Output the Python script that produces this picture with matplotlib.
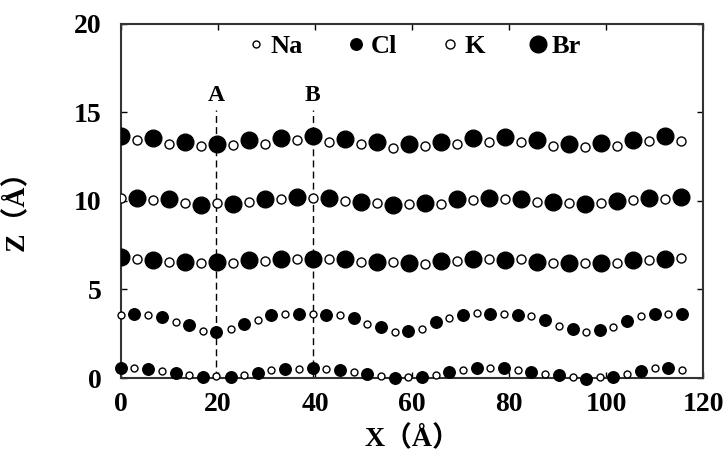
import matplotlib.pyplot as plt

# lattice positions along X (Å)
x_nacl_a = [0, 5.6, 11.3, 16.9, 22.6, 28.2, 33.8, 39.5, 45.1, 50.8, 56.4,
            62.0, 67.7, 73.3, 79.0, 84.6, 90.2, 95.9, 101.5, 107.2, 112.8]
x_nacl_b = [2.8, 8.5, 14.1, 19.7, 25.4, 31.0, 36.7, 42.3, 48.0, 53.6, 59.2,
            64.9, 70.5, 76.1, 81.8, 87.4, 93.1, 98.7, 104.3, 110.0, 115.6]
x_kbr_a = [0, 6.6, 13.2, 19.8, 26.4, 33.0, 39.6, 46.2, 52.8, 59.4,
           66.0, 72.6, 79.2, 85.8, 92.4, 99.0, 105.6, 112.2]
x_kbr_b = [3.3, 9.9, 16.5, 23.1, 29.7, 36.3, 42.9, 49.5, 56.1, 62.7,
           69.3, 75.9, 82.5, 89.1, 95.7, 102.3, 108.9, 115.5]

# layer 1 (NaCl): Cl on x_nacl_a, Na on x_nacl_b
z1_cl = [0.55, 0.5, 0.3, 0.04, 0.04, 0.3, 0.49, 0.55, 0.45, 0.23, -0.02,
         0.07, 0.36, 0.55, 0.55, 0.36, 0.17, -0.07, 0.07, 0.41, 0.55]
z1_na = [0.55, 0.41, 0.17, 0.11, 0.17, 0.45, 0.5, 0.49, 0.36, 0.11, 0.04,
         0.17, 0.45, 0.55, 0.45, 0.23, 0.07, 0.04, 0.23, 0.55, 0.45]
# layer 2 (NaCl): Na on x_nacl_a, Cl on x_nacl_b
z2_na = [3.55, 3.55, 3.18, 2.67, 2.75, 3.27, 3.61, 3.6, 3.55, 3.05, 2.6,
         2.75, 3.37, 3.65, 3.61, 3.5, 2.93, 2.61, 2.89, 3.5, 3.61]
z2_cl = [3.61, 3.42, 2.99, 2.61, 3.05, 3.55, 3.61, 3.55, 3.37, 2.86, 2.67,
         3.18, 3.55, 3.61, 3.55, 3.27, 2.75, 2.7, 3.23, 3.61, 3.61]
# layer 3 (KBr): Br on x_kbr_a, K on x_kbr_b
z3_br = [6.8, 6.66, 6.56, 6.56, 6.66, 6.69, 6.69, 6.69, 6.56, 6.5,
         6.62, 6.69, 6.66, 6.56, 6.5, 6.5, 6.66, 6.69]
z3_k = [6.69, 6.56, 6.5, 6.5, 6.62, 6.69, 6.69, 6.56, 6.56, 6.43,
        6.62, 6.69, 6.69, 6.5, 6.5, 6.5, 6.66, 6.75]
# layer 4 (KBr): K on x_kbr_a, Br on x_kbr_b
z4_k = [10.13, 10.04, 9.85, 9.85, 9.94, 10.08, 10.13, 10.0, 9.85, 9.81,
        9.81, 10.04, 10.08, 9.94, 9.85, 9.85, 10.04, 10.08]
z4_br = [10.13, 10.08, 9.76, 9.81, 10.08, 10.19, 10.13, 9.94, 9.76, 9.85,
         10.08, 10.13, 10.08, 9.94, 9.81, 10.0, 10.13, 10.19]
# layer 5 (KBr): Br on x_kbr_a, K on x_kbr_b
z5_br = [13.65, 13.52, 13.33, 13.23, 13.42, 13.52, 13.65, 13.46, 13.33, 13.23,
         13.33, 13.52, 13.61, 13.42, 13.23, 13.27, 13.42, 13.65]
z5_k = [13.4, 13.23, 13.09, 13.14, 13.23, 13.42, 13.33, 13.23, 13.0, 13.09,
        13.23, 13.33, 13.33, 13.09, 13.05, 13.09, 13.39, 13.39]

# cut lines
cut_names = ["A", "B"]
cut_x = [19.7, 39.5]

xticks = [0, 20, 40, 60, 80, 100, 120]
yticks = [0, 5, 10, 15, 20]

fam = ["Liberation Serif", "Noto Sans CJK SC"]
plt.rcParams["font.family"] = fam
plt.rcParams["font.weight"] = "bold"

fig = plt.figure(figsize=(7.28, 4.61), dpi=100)
ax = fig.add_axes([0.166, 0.180, 0.800, 0.769])

for i in range(2):
    ax.plot([cut_x[i], cut_x[i]], [0, 15.1], color="black", lw=1.0,
            ls=(0, (5, 3)), zorder=1)
    ax.text(cut_x[i], 15.95, cut_names[i], ha="center", va="center",
            fontsize=17, fontweight="bold")

na_x = x_nacl_b + x_nacl_a
na_z = z1_na + z2_na
cl_x = x_nacl_a + x_nacl_b
cl_z = z1_cl + z2_cl
k_x = x_kbr_b + x_kbr_a + x_kbr_b
k_z = z3_k + z4_k + z5_k
br_x = x_kbr_a + x_kbr_b + x_kbr_a
br_z = z3_br + z4_br + z5_br

ax.plot(cl_x, cl_z, "o", ms=8.3, color="black", label="Cl", zorder=3,
        clip_on=False)
ax.plot(br_x, br_z, "o", ms=12, color="black", label="Br", zorder=3)
ax.plot(na_x, na_z, "o", ms=5, mfc="white", mec="black", mew=1.0,
        label="Na", zorder=4, clip_on=False)
ax.plot(k_x, k_z, "o", ms=6.5, mfc="white", mec="black", mew=1.0,
        label="K", zorder=4)

h, l = ax.get_legend_handles_labels()
order = [2, 0, 3, 1]
ax.legend([h[i] for i in order], [l[i] for i in order], ncol=4,
          loc="upper center", bbox_to_anchor=(0.505, 1.035), frameon=False,
          handlelength=0.6, handletextpad=0.25, columnspacing=1.7,
          prop={"family": fam, "weight": "bold", "size": 19})

ax.set_xlim(0, 120)
ax.set_ylim(0, 20)
ax.set_xticks(xticks)
ax.set_yticks(yticks)
ax.tick_params(direction="in", length=4, width=1, top=True, right=True,
               labelsize=20, pad=10)
ax.tick_params(axis="y", pad=14)
for s in ax.spines.values():
    s.set_linewidth(1.5)
    s.set_color("#333333")

ax.set_xlabel("X（Å）", fontsize=20, fontweight="bold")
ax.set_ylabel("Z（Å）", fontsize=20, fontweight="bold")
ax.xaxis.set_label_coords(0.5, -0.135)
ax.yaxis.set_label_coords(-0.156, 0.49)

fig.savefig("out.png", dpi=100)
